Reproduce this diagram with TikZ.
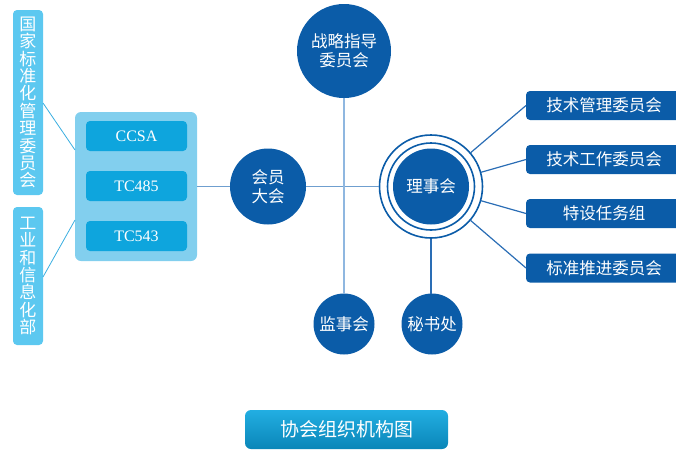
\documentclass[tikz,border=0pt]{standalone}
\usepackage{fontspec}
\setmainfont{Noto Sans CJK SC}
\newfontfamily\latinserif{Liberation Serif}
\definecolor{dkblue}{HTML}{0B5CA8}
\definecolor{sidebox}{HTML}{5CC8F0}
\definecolor{panel}{HTML}{82CFEE}
\definecolor{innerbox}{HTML}{0EA5DD}
\definecolor{lineA}{HTML}{6F9FCF}
\definecolor{lineV}{HTML}{8FB7E0}
\definecolor{lineL}{HTML}{3AAEE0}
\definecolor{lineR}{HTML}{2A6DB5}
\definecolor{titletop}{HTML}{22AEE2}
\definecolor{titlebot}{HTML}{0A86B8}
\begin{document}
\begin{tikzpicture}[x=1pt,y=-1pt,
  every node/.style={inner sep=0pt,outer sep=0pt},
  bigcirc/.style={circle,fill=dkblue,text=white,font=\fontsize{16.5}{19}\selectfont,align=center},
  vbox/.style={draw=none,fill=sidebox,rounded corners=4pt,text=white,align=center,font=\fontsize{17}{17.4}\selectfont},
  tcbox/.style={fill=innerbox,rounded corners=4pt,text=white,font=\latinserif\fontsize{16}{18}\selectfont},
  rbox/.style={fill=dkblue,rounded corners=4pt},
  rtext/.style={text=white,font=\fontsize{16.5}{18}\selectfont},
  ring/.style={draw=dkblue,line width=1.6pt,circle,fill=none}]
\useasboundingbox (0,0) rectangle (676,450);
\clip (0,0) rectangle (676,450);

% left vertical boxes
\node[vbox,minimum width=30pt,minimum height=185pt] (gj) at (28,102.5) {国\\家\\标\\准\\化\\管\\理\\委\\员\\会};
\node[vbox,minimum width=30pt,minimum height=138pt] (gx) at (28,276) {工\\业\\和\\信\\息\\化\\部};

% panel
\node[fill=panel,rounded corners=6pt,minimum width=122pt,minimum height=149pt] (panel) at (136,186.5) {};
\node[tcbox,minimum width=101pt,minimum height=30pt] (ccsa) at (136.5,136) {CCSA};
\node[tcbox,minimum width=101pt,minimum height=30pt] (tc485) at (136.5,186) {TC485};
\node[tcbox,minimum width=101pt,minimum height=30pt] (tc543) at (136.5,236) {TC543};

\coordinate (gjp) at (43,103);
\coordinate (gxp) at (43,277);
\coordinate (pa) at (75,150);
\coordinate (pb) at (75,220);
\draw[lineL,line width=0.8pt] (gjp) -- (pa);
\draw[lineL,line width=0.8pt] (gxp) -- (pb);

% circles
\node[bigcirc,minimum size=76pt] (hy) at (268,186.5) {会员\\大会};
\node[bigcirc,minimum size=94pt] (zl) at (344,51) {战略指导\\委员会};
\node[bigcirc,minimum size=61pt] (js) at (344,324) {监事会};
\node[bigcirc,minimum size=61pt] (ms) at (432,324) {秘书处};
\node[circle,minimum size=104pt] (lsh) at (431,186.5) {};
\draw[dkblue,line width=1.6pt] (lsh.center) circle (51.5pt);
\draw[dkblue,line width=1.6pt] (lsh.center) circle (43.5pt);
\node[bigcirc,minimum size=76pt] (lshin) at (431,186.5) {理事会};

% connectors
\draw[lineA,line width=1.2pt] (panel.east |- hy) -- (hy.west);
\draw[lineA,line width=1.2pt] (hy.east) -- (lsh.west);
\draw[lineV,line width=1.6pt] (zl.south) -- (js.north);
\draw[lineR,line width=1.2pt] (lsh.south) -- (lsh.south |- ms.north);

% right boxes
\node[rbox,minimum width=170pt,minimum height=29pt,anchor=west] (r1) at (526,105.5) {};
\node[rbox,minimum width=170pt,minimum height=29pt,anchor=west] (r2) at (526,159.5) {};
\node[rbox,minimum width=170pt,minimum height=29pt,anchor=west] (r3) at (526,213.5) {};
\node[rbox,minimum width=170pt,minimum height=29pt,anchor=west] (r4) at (526,268) {};
\node[rtext] (t1) at (604,105.5) {技术管理委员会};
\node[rtext] (t2) at (604,159.5) {技术工作委员会};
\node[rtext] (t3) at (604,213.5) {特设任务组};
\node[rtext] (t4) at (604,268) {标准推进委员会};
\foreach \r in {r1,r2,r3,r4}
  \draw[lineR,line width=1.2pt] (lsh) -- (\r.west);

% title
\node[rounded corners=6pt,top color=titletop,bottom color=titlebot,minimum width=203pt,minimum height=39pt,text=white,font=\fontsize{19}{22}\selectfont] (title) at (346.5,429.5) {协会组织机构图};
\end{tikzpicture}
\end{document}
